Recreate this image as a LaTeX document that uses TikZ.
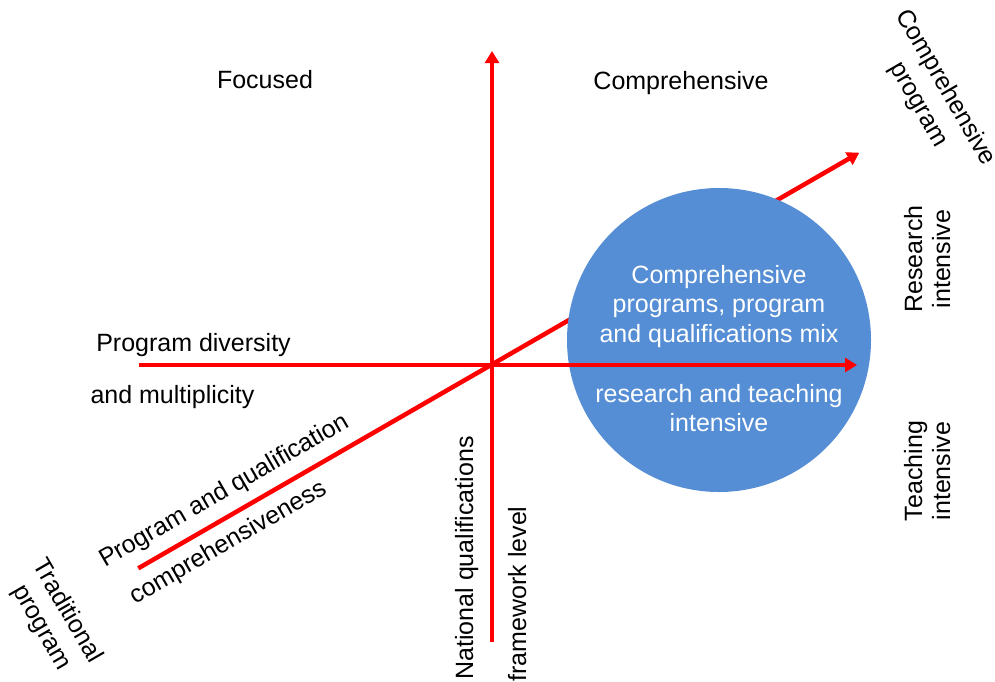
\documentclass[tikz,border=0pt]{standalone}
\usepackage{fontspec}
\setmainfont{Liberation Sans}
\usetikzlibrary{arrows.meta}
\definecolor{axisred}{RGB}{255,0,0}
\definecolor{bubble}{RGB}{85,142,213}
\tikzset{
  axis/.style={draw=axisred, line width=4.5pt, -{Triangle[length=12pt,width=14pt]}},
  lbl/.style={inner sep=0pt, anchor=base, font=\fontsize{25}{30}\selectfont, text=black},
  inlbl/.style={lbl, text=white},
}
\begin{document}
\begin{tikzpicture}[x=1pt,y=-1pt]
\useasboundingbox (0,0) rectangle (995,681);
% axis end points
\coordinate (hL) at (139,365);
\coordinate (hR) at (857,365);
\coordinate (vB) at (492,642);
\coordinate (vT) at (492,51);
\coordinate (dL) at (138.3,568.3);
\coordinate (dR) at (859.3,152.7);
% diagonal axis (behind the circle)
\draw[axis] (dL) -- (dR);
% circle
\node[circle, fill=bubble, minimum size=304pt, inner sep=0pt] (bub) at (719,340) {};
% horizontal and vertical axes
\draw[axis] (hL) -- (hR);
\draw[axis] (vB) -- (vT);
% circle texts
\node[inlbl] (c1) at (719,283.3) {Comprehensive};
\node[inlbl] (c2) at (719,312.7) {programs, program};
\node[inlbl] (c3) at (719,342.7) {and qualifications mix};
\node[inlbl] (c4) at (719,402.7) {research and teaching};
\node[inlbl] (c5) at (719,431.7) {intensive};
% quadrant labels
\node[lbl] (foc) at (265,88.3) {Focused};
\node[lbl] (comp) at (681,89) {Comprehensive};
% horizontal axis labels
\node[lbl] (pd1) at (193.5,351.7) {Program diversity};
\node[lbl] (pd2) at (172.5,403) {and multiplicity};
% vertical axis labels
\node[lbl, rotate=90] (nq1) at (473,558) {National qualifications};
\node[lbl, rotate=90] (nq2) at (526,594) {framework level};
% right labels
\node[lbl, rotate=90] (ri1) at (922,259) {Research};
\node[lbl, rotate=90] (ri2) at (950,259) {intensive};
\node[lbl, rotate=90] (ti1) at (922,471) {Teaching};
\node[lbl, rotate=90] (ti2) at (950,471) {intensive};
% diagonal axis labels
\node[lbl, rotate=-60] (cp1) at (939.6,91.1) {Comprehensive};
\node[lbl, rotate=-60] (cp2) at (912.7,107.9) {program};
\node[lbl, rotate=-60] (tp1) at (61,614.5) {Traditional};
\node[lbl, rotate=-60] (tp2) at (35.7,631) {program};
\node[lbl, rotate=30] (pq1) at (228,497) {Program and qualification};
\node[lbl, rotate=30] (pq2) at (231.6,548.9) {comprehensiveness};
\end{tikzpicture}
\end{document}
